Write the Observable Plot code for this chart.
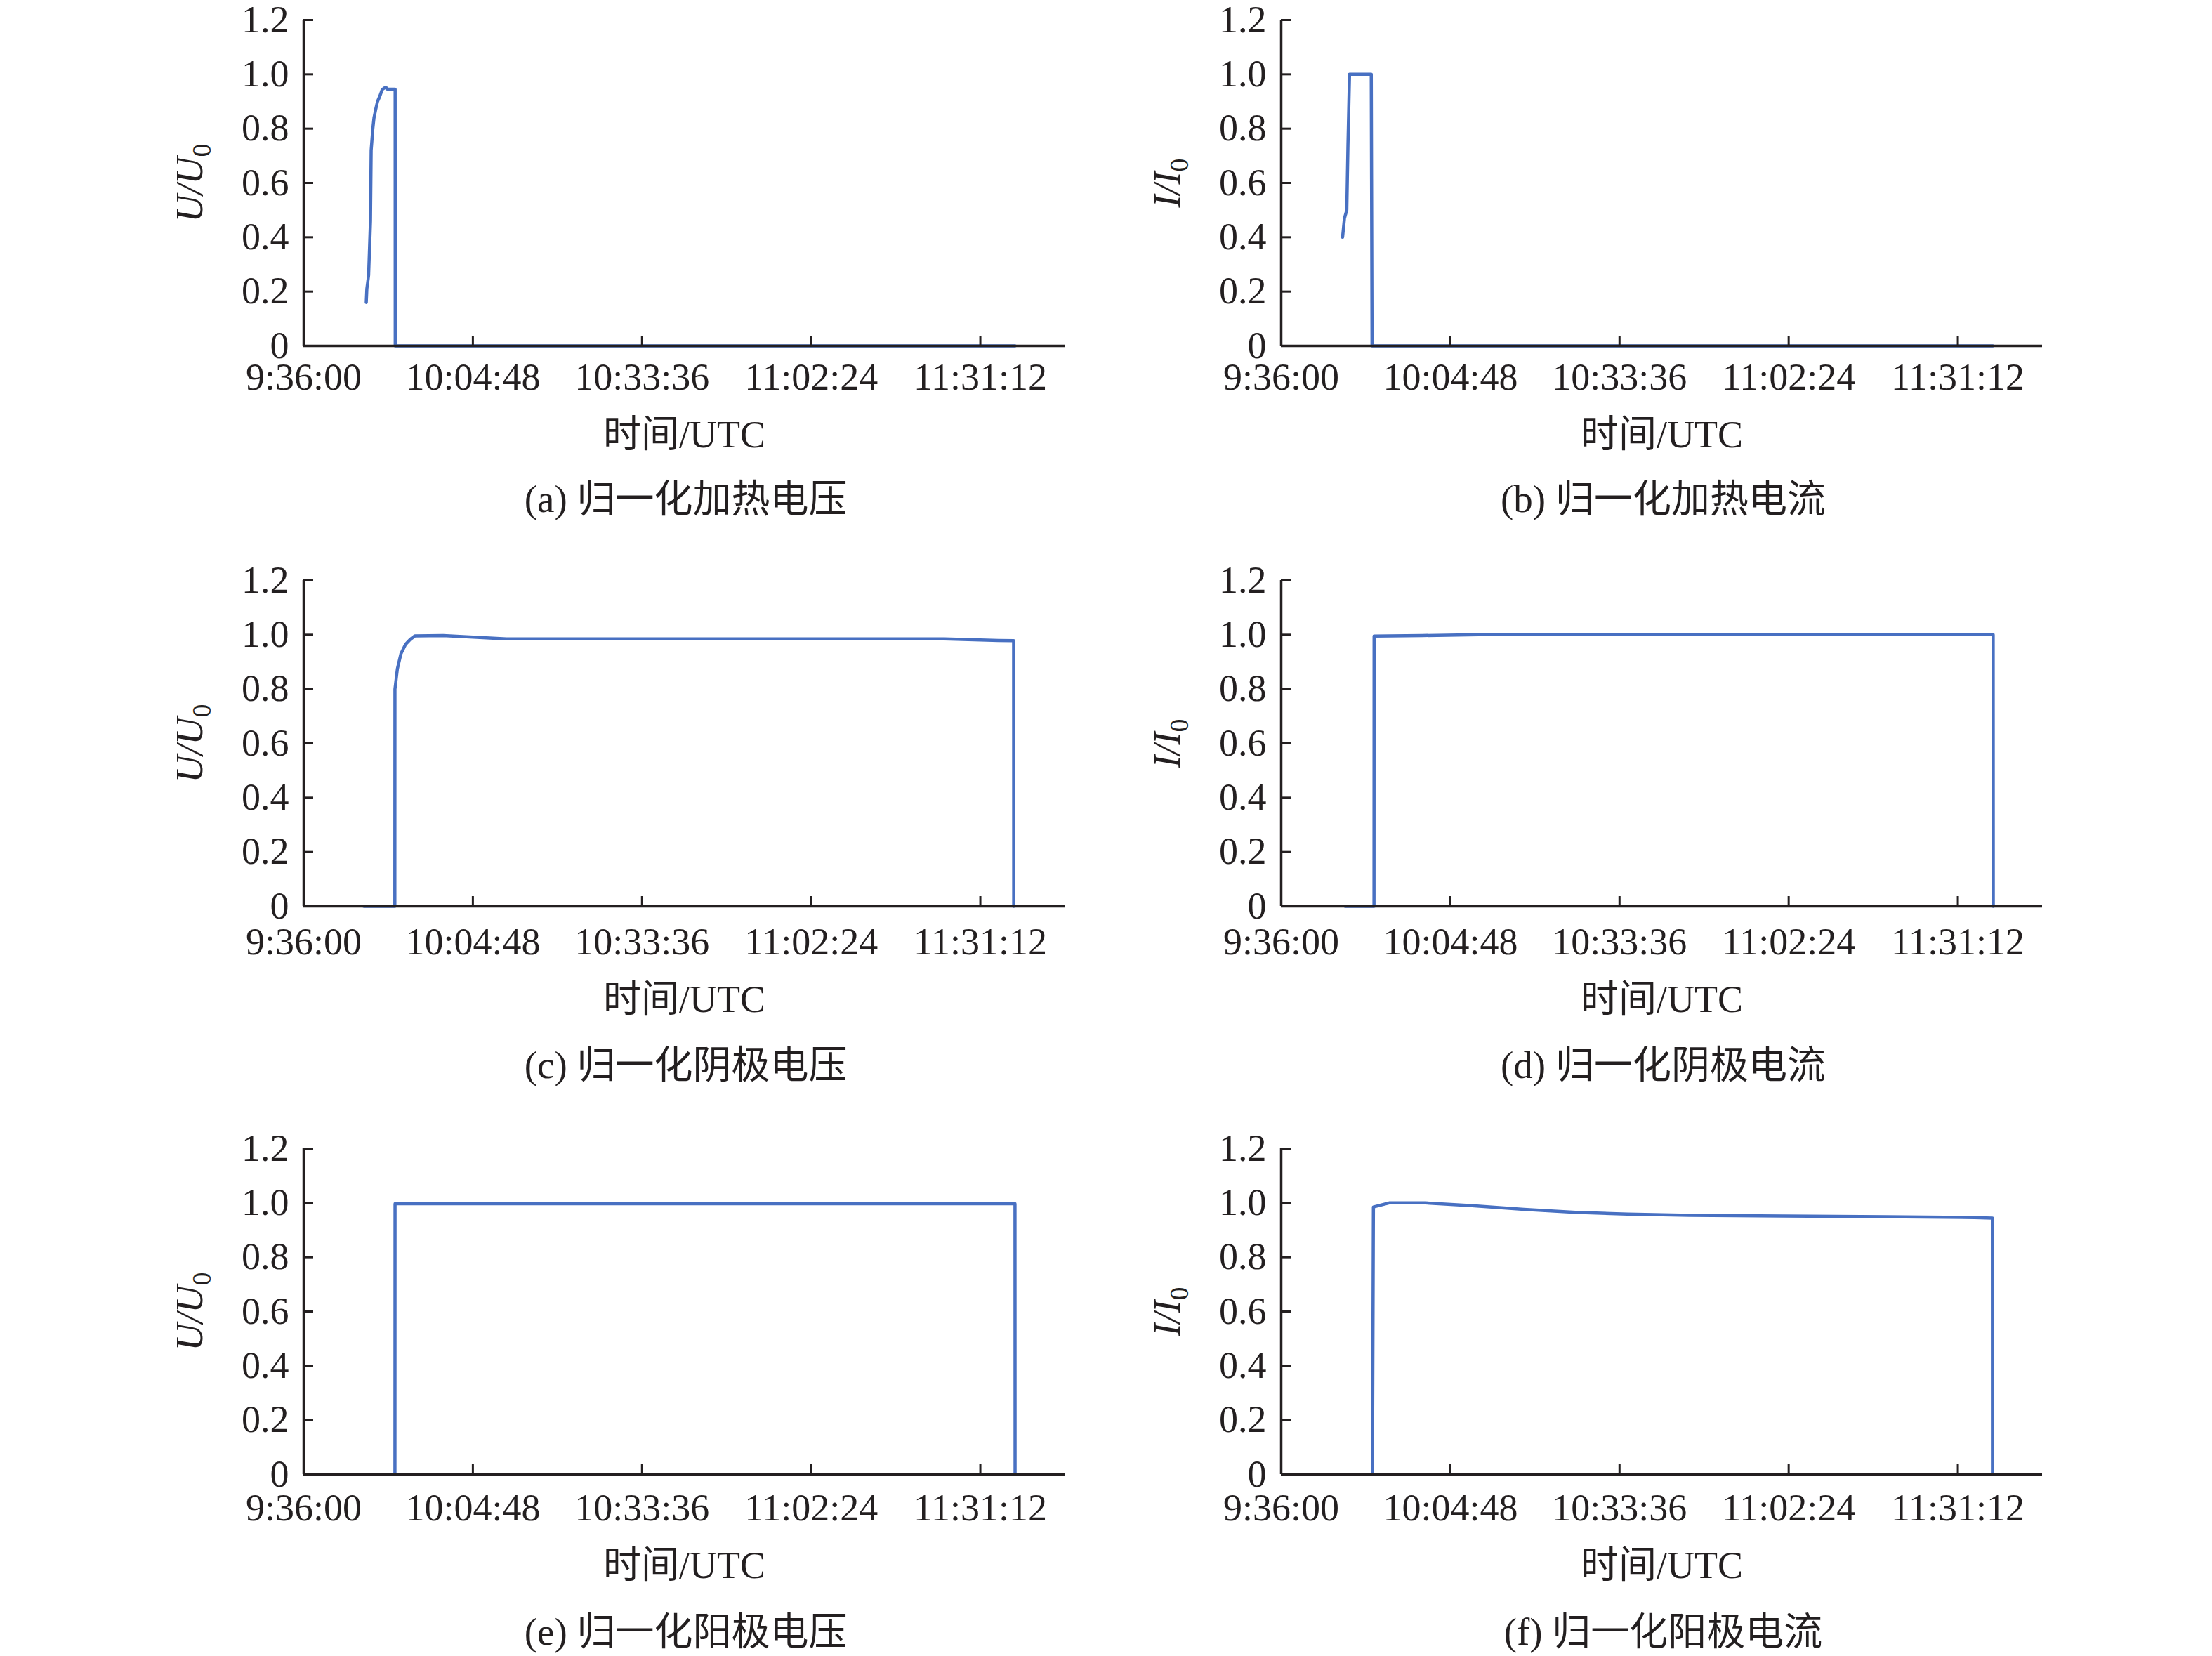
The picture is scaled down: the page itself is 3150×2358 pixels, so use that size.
<!DOCTYPE html>
<html>
<head>
<meta charset="utf-8">
<script src="https://cdn.jsdelivr.net/npm/d3@7"></script>
<script src="https://cdn.jsdelivr.net/npm/@observablehq/plot@0.6"></script>
<style>
  html, body { margin: 0; padding: 0; background: #fff; }
  #root { position: relative; width: 3150px; height: 2358px; background: #fff; overflow: hidden;
          font-family: "Liberation Serif", "Noto Sans CJK SC", serif; color: #231f20; }
  .panel { position: absolute; }
  .caption { position: absolute; font-size: 55px; line-height: 55px;
             white-space: nowrap; transform: translateX(-50%); color: #231f20; }
</style>
</head>
<body>
<div id="root"></div>
<script>
// ---- shared axis definitions ----
const xTickLabels = ["9:36:00", "10:04:48", "10:33:36", "11:02:24", "11:31:12"];
const xDomainLabels = ["9:36:00", "11:45:36"];
const yTicks = [0, 0.2, 0.4, 0.6, 0.8, 1.0, 1.2];
const yTickLabels = ["0", "0.2", "0.4", "0.6", "0.8", "1.0", "1.2"];
const xTitle = "时间/UTC";

// ---- (a) 归一化加热电压 ----
const aTime  = ["9:46:39","9:46:45","9:47:03","9:47:22","9:47:29","9:47:46","9:47:58","9:48:15","9:48:34","9:48:58","9:49:22","9:49:57","9:50:15","9:51:34","9:51:35","11:37:06"];
const aValue = [0.16, 0.21, 0.26, 0.46, 0.72, 0.80, 0.84, 0.87, 0.90, 0.92, 0.944, 0.953, 0.945, 0.945, 0, 0];

// ---- (b) 归一化加热电流 ----
const bTime  = ["9:46:27","9:46:46","9:47:10","9:47:22","9:47:38","9:51:20","9:51:28","11:37:10"];
const bValue = [0.40, 0.47, 0.50, 0.74, 1.0, 1.0, 0, 0];

// ---- (c) 归一化阴极电压 ----
const cTime  = ["9:46:15","9:51:31","9:51:32","9:51:57","9:52:33","9:53:21","9:54:09","9:54:57","9:59:44","10:10:31","11:25:03","11:34:16","11:36:52","11:36:53"];
const cValue = [0, 0, 0.80, 0.875, 0.93, 0.965, 0.983, 0.996, 0.997, 0.985, 0.985, 0.979, 0.978, 0];

// ---- (d) 归一化阴极电流 ----
const dTime  = ["9:46:54","9:51:48","9:51:49","10:00:00","10:09:38","11:37:13","11:37:14"];
const dValue = [0, 0, 0.995, 0.997, 1.0, 1.0, 0];

// ---- (e) 归一化阳极电压 ----
const eTime  = ["9:46:39","9:51:32","9:51:33","11:37:06","11:37:07"];
const eValue = [0, 0, 0.997, 0.997, 0];

// ---- (f) 归一化阳极电流 ----
const fTime  = ["9:46:25","9:51:32","9:51:42","9:54:22","10:00:28","10:08:29","10:17:18","10:26:05","10:34:56","10:45:28","11:01:24","11:19:00","11:34:02","11:37:05","11:37:06"];
const fValue = [0, 0, 0.985, 1.0, 1.0, 0.990, 0.976, 0.965, 0.959, 0.954, 0.952, 0.949, 0.946, 0.944, 0];

const captions = ["(a) 归一化加热电压", "(b) 归一化加热电流", "(c) 归一化阴极电压",
                  "(d) 归一化阴极电流", "(e) 归一化阳极电压", "(f) 归一化阳极电流"];
const yLabelLetters = ["U", "I", "U", "I", "U", "I"];

// ---- helpers ----
function t(s) {
  const [h, m, sec] = s.split(":").map(Number);
  return new Date(Date.UTC(2000, 0, 1, h, m, sec));
}
const fmtTime = d3.utcFormat("%-H:%M:%S");

const series = [
  [aTime, aValue], [bTime, bValue], [cTime, cValue],
  [dTime, dValue], [eTime, eValue], [fTime, fValue]
];

// ---- layout ----
const colX0 = [431.7, 1823.5];
const rowTop = [28, 826, 1635];
const rowShift = [0, 6, 3];          // small per-row offsets of the texts below each axis
const capShift = [-4, 4, 2];
const frameW = 1084, frameH = 464;
const ML = 220, MR = 30, MT = 28, MB = 190;
const LINE = "#4870c2";
const INK = "#231f20";

const root = document.getElementById("root");

series.forEach(([times, values], i) => {
  const col = i % 2, row = Math.floor(i / 2);
  const data = times.map((s, k) => ({time: t(s), value: values[k]}));
  const x0 = t(xDomainLabels[0]);

  const chart = Plot.plot({
    width: ML + frameW + MR,
    height: MT + frameH + MB,
    marginLeft: ML, marginRight: MR, marginTop: MT, marginBottom: MB,
    style: {fontFamily: "Liberation Serif, Noto Sans CJK SC, serif", fontSize: "54px",
            color: INK, background: "transparent", overflow: "visible"},
    x: {type: "utc", domain: xDomainLabels.map(t)},
    y: {domain: [0, 1.2]},
    marks: [
      Plot.line(data, {x: "time", y: "value", stroke: LINE, strokeWidth: 4.5, strokeLinejoin: "round"}),
      Plot.ruleY([0], {stroke: INK, strokeWidth: 3.5}),
      Plot.ruleX([x0], {stroke: INK, strokeWidth: 3.5}),
      Plot.axisX({
        ticks: xTickLabels.map(t), tickFormat: fmtTime,
        tickSize: -14, tickPadding: 38 + rowShift[row], strokeWidth: 3, stroke: INK,
        fontSize: 54, label: xTitle, labelAnchor: "center", labelOffset: 144 + rowShift[row], labelArrow: "none"
      }),
      Plot.axisY({
        ticks: yTicks, tickFormat: d => yTickLabels[yTicks.indexOf(d)],
        tickSize: -14, tickPadding: 35, strokeWidth: 3, stroke: INK,
        fontSize: 54, label: yLabelLetters[i] + "/" + yLabelLetters[i] + "0",
        labelAnchor: "center", labelOffset: 183, labelArrow: "none"
      })
    ]
  });

  // subscript + italic for the y-axis label
  const lab = chart.querySelector('g[aria-label="y-axis label"] text');
  if (lab) {
    while (lab.firstChild) lab.removeChild(lab.firstChild);
    const ns = "http://www.w3.org/2000/svg";
    const s1 = document.createElementNS(ns, "tspan");
    s1.setAttribute("font-style", "italic");
    s1.textContent = yLabelLetters[i] + "/" + yLabelLetters[i];
    const s2 = document.createElementNS(ns, "tspan");
    s2.setAttribute("font-size", "38");
    s2.setAttribute("dy", "12");
    s2.textContent = "0";
    lab.appendChild(s1);
    lab.appendChild(s2);
  }

  const wrap = document.createElement("div");
  wrap.className = "panel";
  wrap.style.left = (colX0[col] - ML) + "px";
  wrap.style.top = (rowTop[row] - MT) + "px";
  wrap.appendChild(chart);
  root.appendChild(wrap);

  const cap = document.createElement("div");
  cap.className = "caption";
  cap.textContent = captions[i];
  cap.style.left = (colX0[col] + frameW / 2 + 3) + "px";
  cap.style.top = (rowTop[row] + frameH + 241 + capShift[row] - 46) + "px";
  root.appendChild(cap);
});
</script>
</body>
</html>
